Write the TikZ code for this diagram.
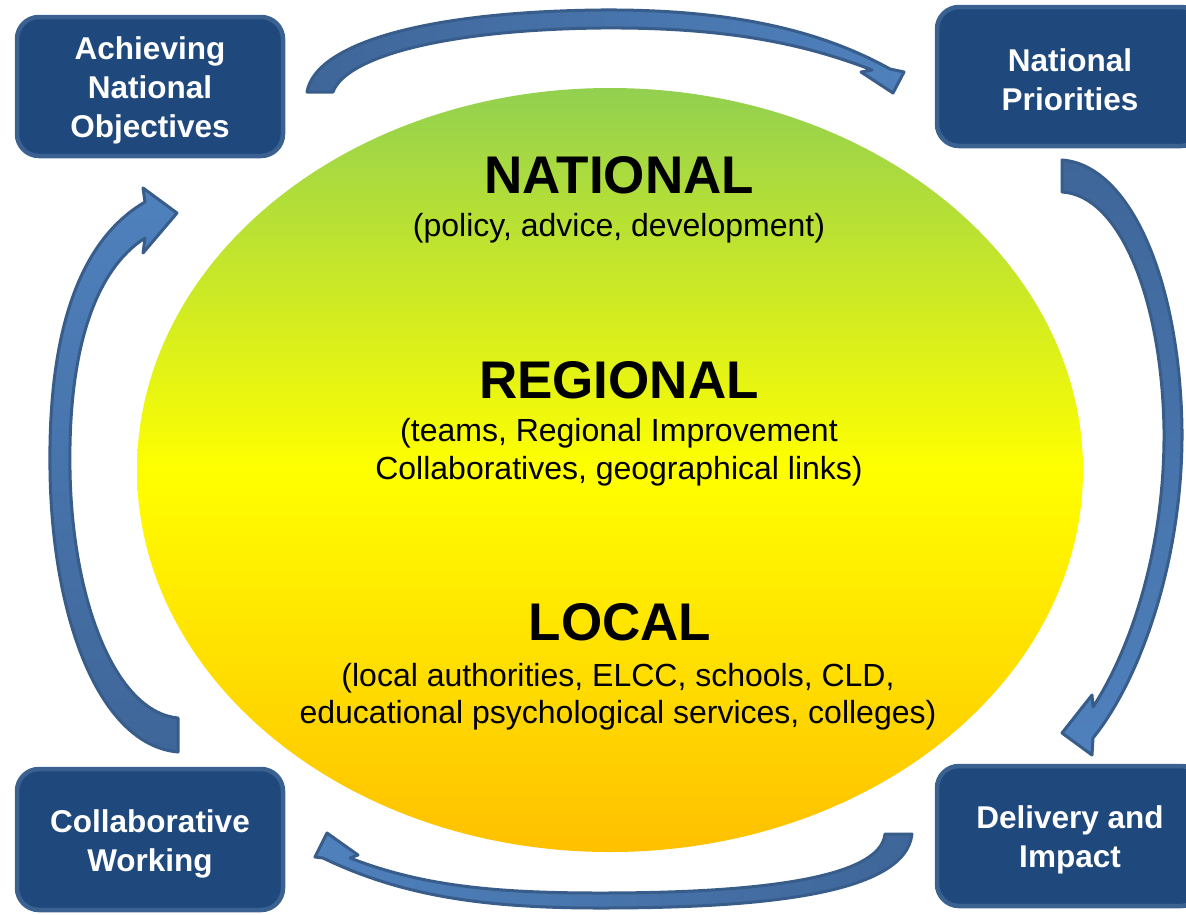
\documentclass[tikz,border=0pt]{standalone}
\usepackage{fontspec}
\setmainfont{Liberation Sans}
\usetikzlibrary{shapes.geometric}

\definecolor{boxfill}{HTML}{1F497D}
\definecolor{boxedge}{HTML}{3A6190}
\definecolor{arrowedge}{HTML}{385D8A}
\definecolor{arrowdark}{HTML}{3F6699}
\definecolor{arrowlight}{HTML}{4F81BD}
\definecolor{topgreen}{HTML}{92D050}
\definecolor{midyellow}{HTML}{FFFF00}
\definecolor{botorange}{HTML}{FFC000}

\begin{document}
\begin{tikzpicture}[x=1pt,y=-1pt,
  stagebox/.style={draw=boxedge, fill=boxfill, line width=4.5pt,
    rounded corners=22pt, minimum width=266pt, inner sep=0pt},
  stagetext/.style={inner sep=0pt, text=white, align=center,
    font=\fontsize{31.5}{39}\selectfont\bfseries},
  level/.style={inner sep=0pt, font=\fontsize{53}{60}\selectfont\bfseries},
  detail/.style={inner sep=0pt, align=center,
    font=\fontsize{32}{37.5}\selectfont},
  cyclearrow/.style={draw=arrowedge, line width=3pt, line join=round}]

\useasboundingbox (0,0) rectangle (1186,914);
\clip (0,0) rectangle (1186,914);
\fill[white] (0,0) rectangle (1186,914);

% central ellipse with the three levels
\node[ellipse, inner sep=0pt, minimum width=946pt, minimum height=764pt,
  top color=topgreen, bottom color=botorange, middle color=midyellow]
  (core) at (610,470) {};

\node[level]  (national)  at (619,175) {NATIONAL};
\node[detail] (nationalD) at (619,228) {(policy, advice, development)};
\node[level]  (regional)  at (619,380) {REGIONAL};
\node[detail] (regionalD) at (619,452) {(teams, Regional Improvement\\Collaboratives, geographical links)};
\node[level]  (local)     at (620,622) {LOCAL};
\node[detail] (localD)    at (618,696.5) {(local authorities, ELCC, schools, CLD,\\educational psychological services, colleges)};

% corner stages of the cycle
\node[stagebox, minimum height=139pt] (achieve)  at (150,86.5) {};
\node[stagebox, minimum height=139pt] (priority) at (1070,76.5) {};
\node[stagebox, minimum height=141pt] (collab)   at (150,839.5) {};
\node[stagebox, minimum height=140pt] (deliver)  at (1070,836) {};

\node[stagetext] (achieveT)  at (150,90)   {Achieving\\National\\Objectives};
\node[stagetext] (priorityT) at (1070,80)  {National\\Priorities};
\node[stagetext] (collabT)   at (150,844)  {Collaborative\\Working};
\node[stagetext] (deliverT)  at (1070,840) {Delivery and\\Impact};

% curved block arrows running clockwise round the ellipse
% top: Achieving National Objectives -> National Priorities
\shadedraw[cyclearrow, left color=arrowdark, right color=arrowlight]
  (307,92) .. controls (315,45) and (420,12) .. (600,10)
           .. controls (730,9) and (820,30) .. (890,69)
  -- (904,72) -- (893,93) -- (861,72) -- (872,70)
           .. controls (800,42) and (720,27) .. (600,28)
           .. controls (440,30) and (345,58) .. (333,92)
  -- cycle;

% right: National Priorities -> Delivery and Impact
\shadedraw[cyclearrow, top color=arrowdark, bottom color=arrowlight]
  (1062,160) .. controls (1130,165) and (1180,280) .. (1182,430)
             .. controls (1183,560) and (1140,680) .. (1093,738)
  -- (1092,755) -- (1062,733) -- (1092,695) -- (1093,707)
             .. controls (1130,650) and (1165,550) .. (1164,430)
             .. controls (1162,300) and (1120,195) .. (1062,192)
  -- cycle;

% bottom: Delivery and Impact -> Collaborative Working
\shadedraw[cyclearrow, left color=arrowlight, right color=arrowdark]
  (912,834) .. controls (905,895) and (760,908) .. (600,908)
            .. controls (480,908) and (400,895) .. (323,858)
  -- (315,857) -- (327,833) -- (358,855) -- (350,858)
            .. controls (420,885) and (490,893) .. (600,893)
            .. controls (750,893) and (880,880) .. (885,834)
  -- cycle;

% left: Collaborative Working -> Achieving National Objectives
\shadedraw[cyclearrow, top color=arrowlight, bottom color=arrowdark]
  (178,752) .. controls (100,745) and (52,620) .. (50,470)
            .. controls (48,330) and (80,240) .. (145,202)
  -- (143,188) -- (177,213) -- (143,253) -- (145,238)
            .. controls (95,270) and (68,350) .. (70,470)
            .. controls (72,600) and (115,712) .. (178,718)
  -- cycle;

\end{tikzpicture}
\end{document}
